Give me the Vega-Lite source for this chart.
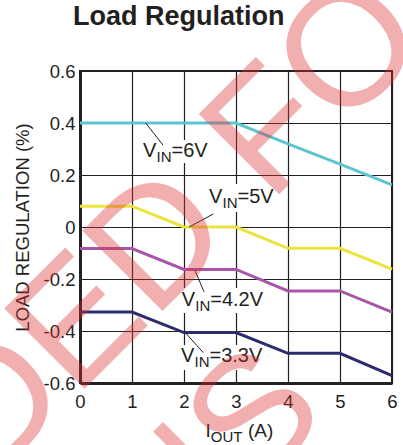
{
  "$schema": "https://vega.github.io/schema/vega-lite/v6.json",
  "width": 312,
  "height": 312,
  "autosize": {"type": "none"},
  "padding": {"left": 80, "top": 71, "right": 11, "bottom": 62},
  "background": "white",
  "config": {
    "view": {"stroke": "#231f20", "strokeWidth": 2},
    "font": "Liberation Sans"
  },
  "datasets": {
    "curves": [
      {"vin": "6V", "x": 0, "y": 0.4},
      {"vin": "6V", "x": 1, "y": 0.4},
      {"vin": "6V", "x": 2, "y": 0.4},
      {"vin": "6V", "x": 3, "y": 0.4},
      {"vin": "6V", "x": 4, "y": 0.32},
      {"vin": "6V", "x": 5, "y": 0.242},
      {"vin": "6V", "x": 6, "y": 0.162},
      {"vin": "5V", "x": 0, "y": 0.08},
      {"vin": "5V", "x": 1, "y": 0.08},
      {"vin": "5V", "x": 2, "y": 0.0},
      {"vin": "5V", "x": 3, "y": 0.0},
      {"vin": "5V", "x": 4, "y": -0.082},
      {"vin": "5V", "x": 5, "y": -0.082},
      {"vin": "5V", "x": 6, "y": -0.162},
      {"vin": "4.2V", "x": 0, "y": -0.083},
      {"vin": "4.2V", "x": 1, "y": -0.083},
      {"vin": "4.2V", "x": 2, "y": -0.163},
      {"vin": "4.2V", "x": 3, "y": -0.163},
      {"vin": "4.2V", "x": 4, "y": -0.246},
      {"vin": "4.2V", "x": 5, "y": -0.246},
      {"vin": "4.2V", "x": 6, "y": -0.327},
      {"vin": "3.3V", "x": 0, "y": -0.327},
      {"vin": "3.3V", "x": 1, "y": -0.327},
      {"vin": "3.3V", "x": 2, "y": -0.406},
      {"vin": "3.3V", "x": 3, "y": -0.406},
      {"vin": "3.3V", "x": 4, "y": -0.486},
      {"vin": "3.3V", "x": 5, "y": -0.486},
      {"vin": "3.3V", "x": 6, "y": -0.572}
    ],
    "labels": [
      {"vin": "6V", "x": 1.212, "y": 0.268, "rest": "=6V", "bx1": 1.17, "bx2": 2.25, "by1": 0.246, "by2": 0.335, "ax1": 1.263, "ay1": 0.4, "ax2": 1.596, "ay2": 0.315},
      {"vin": "5V", "x": 2.481, "y": 0.091, "rest": "=5V", "bx1": 2.44, "bx2": 3.79, "by1": 0.058, "by2": 0.165, "ax1": 2.1, "ay1": 0.0, "ax2": 2.563, "ay2": 0.05},
      {"vin": "4.2V", "x": 1.956, "y": -0.303, "rest": "=4.2V", "bx1": 1.92, "bx2": 3.56, "by1": -0.331, "by2": -0.235, "ax1": 2.212, "ay1": -0.168, "ax2": 2.385, "ay2": -0.249},
      {"vin": "3.3V", "x": 1.942, "y": -0.52, "rest": "=3.3V", "bx1": 1.9, "bx2": 3.54, "by1": -0.55, "by2": -0.454, "ax1": 2.019, "ay1": -0.405, "ax2": 2.371, "ay2": -0.483}
    ],
    "heading": [
      {"x": -0.135, "y": 0.777, "t": "Load Regulation"}
    ],
    "xtitle": [
      {"x": 2.413, "y": -0.808}
    ],
    "watermark": [
      {"x": -5.994, "y": -1.839, "t": "NOT RECOMMENDED FOR"},
      {"x": -3.158, "y": -2.318, "t": "NEW DESIGNS"}
    ]
  },
  "layer": [
    {
      "data": {"name": "curves"},
      "mark": {"type": "line", "strokeWidth": 3, "strokeCap": "butt"},
      "encoding": {
        "x": {"field": "x", "type": "quantitative", "scale": {"domain": [0, 6], "nice": false, "zero": false},
          "axis": {"values": [0, 1, 2, 3, 4, 5, 6], "title": null, "grid": true, "gridColor": "#231f20", "gridWidth": 1.2, "gridOpacity": 1,
            "ticks": false, "domain": true, "domainColor": "#231f20", "domainWidth": 3, "labelFont": "Liberation Sans", "labelFontSize": 18.5,
            "labelColor": "#231f20", "labelPadding": 9, "labelFlush": false, "labelOverlap": false}},
        "y": {"field": "y", "type": "quantitative", "scale": {"domain": [-0.6, 0.6], "nice": false, "zero": false},
          "axis": {"values": [-0.6, -0.4, -0.2, 0, 0.2, 0.4, 0.6], "title": "LOAD REGULATION (%)", "titleFont": "Liberation Sans",
            "titleFontSize": 18.5, "titleFontWeight": "normal", "titleColor": "#231f20", "titlePadding": 11,
            "grid": true, "gridColor": "#231f20", "gridWidth": 1.2, "gridOpacity": 1,
            "ticks": false, "domain": true, "domainColor": "#231f20", "domainWidth": 3, "labelFont": "Liberation Sans", "labelFontSize": 18.5,
            "labelColor": "#231f20", "labelPadding": 5, "labelFlush": false, "labelOverlap": false,
            "labelExpr": "abs(datum.value) < 1e-9 ? '0' : (datum.value < 0 ? '-' + format(-datum.value, '.1f') : format(datum.value, '.1f'))"}},
        "color": {"field": "vin", "type": "nominal", "legend": null,
          "scale": {"domain": ["6V", "5V", "4.2V", "3.3V"], "range": ["#5ec4cf", "#ece43e", "#a657a8", "#2b2c6c"]}}
      }
    },
    {
      "data": {"name": "labels"},
      "mark": {"type": "rect", "fill": "white", "stroke": null},
      "encoding": {
        "x": {"field": "bx1", "type": "quantitative"},
        "x2": {"field": "bx2"},
        "y": {"field": "by1", "type": "quantitative"},
        "y2": {"field": "by2"}
      }
    },
    {
      "data": {"name": "labels"},
      "mark": {"type": "rule", "color": "#231f20", "strokeWidth": 1},
      "encoding": {
        "x": {"field": "ax1", "type": "quantitative"},
        "y": {"field": "ay1", "type": "quantitative"},
        "x2": {"field": "ax2"},
        "y2": {"field": "ay2"}
      }
    },
    {
      "data": {"name": "labels"},
      "mark": {"type": "text", "align": "left", "baseline": "alphabetic", "fontSize": 20, "font": "Liberation Sans", "color": "#231f20"},
      "encoding": {
        "x": {"field": "x", "type": "quantitative"},
        "y": {"field": "y", "type": "quantitative"},
        "text": {"value": "V"}
      }
    },
    {
      "data": {"name": "labels"},
      "mark": {"type": "text", "align": "left", "baseline": "alphabetic", "fontSize": 15, "dx": 13.5, "dy": 5, "font": "Liberation Sans", "color": "#231f20"},
      "encoding": {
        "x": {"field": "x", "type": "quantitative"},
        "y": {"field": "y", "type": "quantitative"},
        "text": {"value": "IN"}
      }
    },
    {
      "data": {"name": "labels"},
      "mark": {"type": "text", "align": "left", "baseline": "alphabetic", "fontSize": 20, "dx": 28.5, "font": "Liberation Sans", "color": "#231f20"},
      "encoding": {
        "x": {"field": "x", "type": "quantitative"},
        "y": {"field": "y", "type": "quantitative"},
        "text": {"field": "rest", "type": "nominal"}
      }
    },
    {
      "data": {"name": "heading"},
      "mark": {"type": "text", "align": "left", "baseline": "alphabetic", "fontSize": 27, "fontWeight": "bold", "font": "Liberation Sans", "color": "#231f20"},
      "encoding": {
        "x": {"field": "x", "type": "quantitative"},
        "y": {"field": "y", "type": "quantitative"},
        "text": {"field": "t", "type": "nominal"}
      }
    },
    {
      "data": {"name": "xtitle"},
      "mark": {"type": "text", "align": "left", "baseline": "alphabetic", "fontSize": 19, "font": "Liberation Sans", "color": "#231f20"},
      "encoding": {
        "x": {"field": "x", "type": "quantitative"},
        "y": {"field": "y", "type": "quantitative"},
        "text": {"value": "I"}
      }
    },
    {
      "data": {"name": "xtitle"},
      "mark": {"type": "text", "align": "left", "baseline": "alphabetic", "fontSize": 15, "dx": 5.3, "dy": 5, "font": "Liberation Sans", "color": "#231f20"},
      "encoding": {
        "x": {"field": "x", "type": "quantitative"},
        "y": {"field": "y", "type": "quantitative"},
        "text": {"value": "OUT"}
      }
    },
    {
      "data": {"name": "xtitle"},
      "mark": {"type": "text", "align": "left", "baseline": "alphabetic", "fontSize": 19, "dx": 42.5, "font": "Liberation Sans", "color": "#231f20"},
      "encoding": {
        "x": {"field": "x", "type": "quantitative"},
        "y": {"field": "y", "type": "quantitative"},
        "text": {"value": "(A)"}
      }
    },
    {
      "data": {"name": "watermark"},
      "mark": {"type": "text", "align": "center", "baseline": "alphabetic", "fontSize": 165, "angle": -45,
        "font": "Liberation Sans", "color": "#dd3030", "opacity": 0.38},
      "encoding": {
        "x": {"field": "x", "type": "quantitative"},
        "y": {"field": "y", "type": "quantitative"},
        "text": {"field": "t", "type": "nominal"}
      }
    }
  ]
}
